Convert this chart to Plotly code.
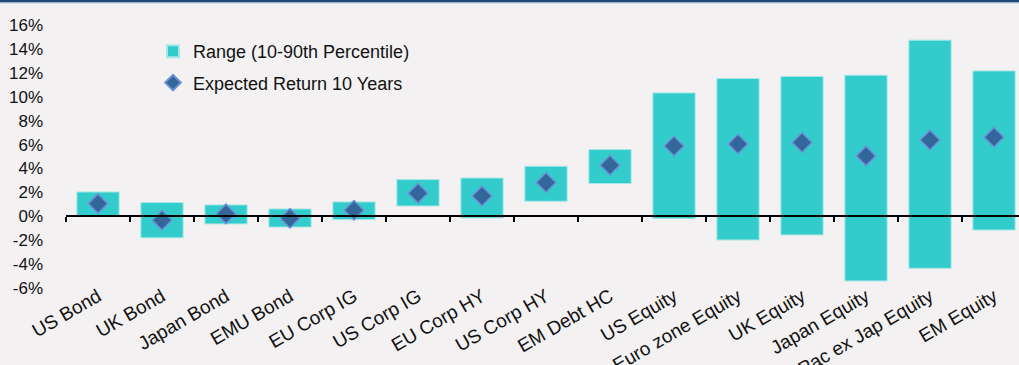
import plotly.graph_objects as go

categories = ["US Bond", "UK Bond", "Japan Bond", "EMU Bond", "EU Corp IG", "US Corp IG",
              "EU Corp HY", "US Corp HY", "EM Debt HC", "US Equity", "Euro zone Equity",
              "UK Equity", "Japan Equity", "Pac ex Jap Equity", "EM Equity"]
range_low = [0.0, -1.8, -0.64, -0.9, -0.28, 0.86, -0.14, 1.26, 2.74, -0.19, -1.98, -1.56, -5.41, -4.35, -1.15]
range_high = [2.03, 1.15, 0.95, 0.61, 1.2, 3.07, 3.2, 4.18, 5.58, 10.32, 11.52, 11.69, 11.8, 14.73, 12.16]
expected = [1.06, -0.33, 0.2, -0.17, 0.5, 1.92, 1.7, 2.82, 4.27, 5.88, 6.05, 6.17, 5.05, 6.38, 6.61]
y_ticks = [-6, -4, -2, 0, 2, 4, 6, 8, 10, 12, 14, 16]

W, H = 1019, 365
ML, MR, MT, MB = 66, 0, 25, 77
plot_h = H - MT - MB
y_min, y_max = -6, 16
x_max = -0.5 + (W - ML - MR) / 64.0
n = len(categories)
FONT = "Liberation Sans, Arial, sans-serif"
BG = "#f3f1f2"

fig = go.Figure()
fig.add_trace(go.Bar(
    x=categories,
    y=[h - l for h, l in zip(range_high, range_low)],
    base=range_low,
    width=0.66,
    marker=dict(color="#33cccc", line=dict(color="#a6e6e6", width=1)),
    name="Range (10-90th Percentile)",
    legendgroup="a",
))
fig.add_trace(go.Scatter(
    x=categories,
    y=expected,
    mode="markers",
    marker=dict(symbol="diamond", size=15, color="#336699", line=dict(color="#6f8fd6", width=1.5)),
    name="Expected Return 10 Years",
    legendgroup="b",
))

# zero-line axis with boundary ticks
fig.update_layout(
    xaxis2=dict(
        overlaying="x", anchor="free", position=(0 - y_min) / (y_max - y_min),
        range=[-0.5, x_max], tickvals=[i - 0.5 for i in range(n + 1)],
        ticks="outside", ticklen=5, tickwidth=2, tickcolor="black",
        showticklabels=False, showline=True, linecolor="black", linewidth=2,
        showgrid=False, zeroline=False, layer="above traces", automargin=False,
    )
)
fig.add_trace(go.Scatter(x=[None], y=[None], xaxis="x2", showlegend=False, hoverinfo="skip"))

top = 1 + MT / plot_h
fig.add_shape(type="rect", xref="paper", yref="paper",
              x0=-ML / (W - ML), x1=1, y0=top - 2.5 / plot_h, y1=top,
              fillcolor="#1c4a78", line=dict(width=0), layer="above")
fig.add_shape(type="rect", xref="paper", yref="paper",
              x0=-ML / (W - ML), x1=1, y0=top - 3.5 / plot_h, y1=top - 2.5 / plot_h,
              fillcolor="#b9c6d6", line=dict(width=0), layer="above")

fig.update_layout(
    width=W, height=H,
    margin=dict(l=ML, r=MR, t=MT, b=MB, pad=0, autoexpand=False),
    paper_bgcolor=BG, plot_bgcolor=BG,
    font=dict(family=FONT, size=17, color="#111111"),
    showlegend=True,
    legend=dict(x=(153 - ML) / (W - ML), y=1 - (33 - MT) / plot_h, xanchor="left", yanchor="top",
                bgcolor="rgba(0,0,0,0)", traceorder="grouped", tracegroupgap=5,
                itemsizing="constant", font=dict(size=18, family=FONT)),
    xaxis=dict(range=[-0.5, x_max], tickangle=-30, showline=False, showgrid=False, zeroline=False,
               ticks="", ticklabelstandoff=-7, automargin=False,
               tickfont=dict(size=19, family=FONT)),
    yaxis=dict(range=[y_min, y_max], tickvals=y_ticks, ticktext=[f"{v}%" for v in y_ticks],
               showgrid=False, zeroline=False, showline=False, ticks="", automargin=False,
               ticklabelstandoff=22, tickfont=dict(size=17, family=FONT)),
    bargap=0.34,
)

fig.write_html("out.html")
